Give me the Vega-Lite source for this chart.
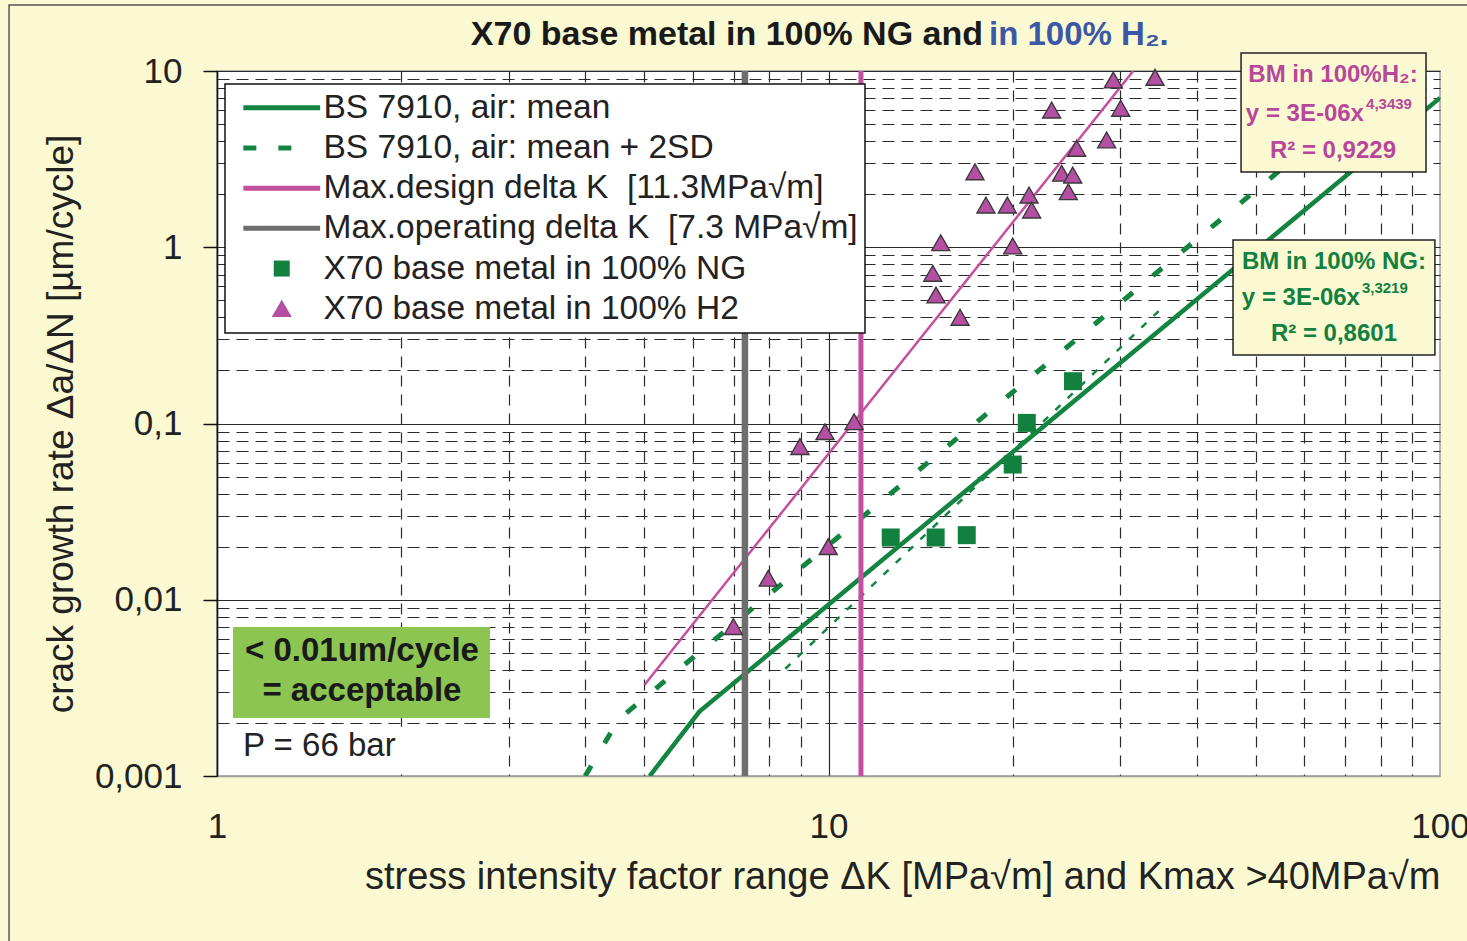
{
  "$schema": "https://vega.github.io/schema/vega-lite/v6.json",
  "width": 1223,
  "height": 705,
  "autosize": {"type": "none"},
  "padding": {"left": 217, "top": 71, "right": 27, "bottom": 165},
  "background": "#FBF9D2",
  "config": {
    "font": "Liberation Sans",
    "view": {"fill": "white", "stroke": "#9c9c9c", "strokeWidth": 1.5},
    "legend": {"strokeWidth": 1.5}
  },
  "datasets": {
    "mean": [
      {"s": "BS 7910, air: mean", "K": 5.1, "v": 0.001},
      {"s": "BS 7910, air: mean", "K": 6.15, "v": 0.00232},
      {"s": "BS 7910, air: mean", "K": 100, "v": 7.04}
    ],
    "sd2": [
      {"s": "BS 7910, air: mean + 2SD", "K": 4.0, "v": 0.001},
      {"s": "BS 7910, air: mean + 2SD", "K": 4.54, "v": 0.0021},
      {"s": "BS 7910, air: mean + 2SD", "K": 85.9, "v": 10}
    ],
    "trendNG": [
      {"K": 8.5, "v": 0.00406},
      {"K": 35.5, "v": 0.47}
    ],
    "trendH2": [
      {"K": 5.0, "v": 0.00328},
      {"K": 31.5, "v": 10}
    ],
    "opsK": [
      {"s": "Max.operating delta K\u00a0 [7.3 MPa√m]", "K": 7.3}
    ],
    "designK": [
      {"s": "Max.design delta K\u00a0 [11.3MPa√m]", "K": 11.3}
    ],
    "ng": [
      {"s": "X70 base metal in 100% NG", "K": 12.64, "v": 0.02256},
      {"s": "X70 base metal in 100% NG", "K": 14.97, "v": 0.02256},
      {"s": "X70 base metal in 100% NG", "K": 16.83, "v": 0.02325},
      {"s": "X70 base metal in 100% NG", "K": 20.01, "v": 0.0585},
      {"s": "X70 base metal in 100% NG", "K": 21.1, "v": 0.1008},
      {"s": "X70 base metal in 100% NG", "K": 25.11, "v": 0.1738}
    ],
    "h2": [
      {"s": "X70 base metal in 100% H2", "K": 6.99, "v": 0.00702},
      {"s": "X70 base metal in 100% H2", "K": 7.97, "v": 0.0132},
      {"s": "X70 base metal in 100% H2", "K": 8.98, "v": 0.0737},
      {"s": "X70 base metal in 100% H2", "K": 9.87, "v": 0.0896},
      {"s": "X70 base metal in 100% H2", "K": 9.99, "v": 0.01995},
      {"s": "X70 base metal in 100% H2", "K": 11.01, "v": 0.102},
      {"s": "X70 base metal in 100% H2", "K": 29.22, "v": 8.86},
      {"s": "X70 base metal in 100% H2", "K": 34.2, "v": 9.17},
      {"s": "X70 base metal in 100% H2", "K": 23.17, "v": 5.98},
      {"s": "X70 base metal in 100% H2", "K": 30.05, "v": 6.12},
      {"s": "X70 base metal in 100% H2", "K": 28.5, "v": 4.05},
      {"s": "X70 base metal in 100% H2", "K": 25.46, "v": 3.63},
      {"s": "X70 base metal in 100% H2", "K": 17.36, "v": 2.67},
      {"s": "X70 base metal in 100% H2", "K": 24.06, "v": 2.62},
      {"s": "X70 base metal in 100% H2", "K": 25.08, "v": 2.56},
      {"s": "X70 base metal in 100% H2", "K": 18.09, "v": 1.73},
      {"s": "X70 base metal in 100% H2", "K": 19.61, "v": 1.73},
      {"s": "X70 base metal in 100% H2", "K": 21.28, "v": 1.97},
      {"s": "X70 base metal in 100% H2", "K": 21.49, "v": 1.62},
      {"s": "X70 base metal in 100% H2", "K": 24.67, "v": 2.06},
      {"s": "X70 base metal in 100% H2", "K": 15.26, "v": 1.058},
      {"s": "X70 base metal in 100% H2", "K": 20.01, "v": 1.013},
      {"s": "X70 base metal in 100% H2", "K": 14.81, "v": 0.709},
      {"s": "X70 base metal in 100% H2", "K": 14.99, "v": 0.534},
      {"s": "X70 base metal in 100% H2", "K": 16.41, "v": 0.399}
    ]
  },
  "layer": [
    {
      "data": {"name": "mean"},
      "mark": {"type": "line", "strokeWidth": 4.5, "clip": true},
      "encoding": {
        "x": {
          "field": "K", "type": "quantitative",
          "scale": {"type": "log", "domain": [1, 100], "nice": false},
          "axis": {
            "values": [1, 2, 3, 4, 5, 6, 7, 8, 9, 10, 20, 30, 40, 50, 60, 70, 80, 90, 100],
            "labelExpr": "datum.value == 1 ? '1' : datum.value == 10 ? '10' : datum.value == 100 ? '100' : ''",
            "labelFontSize": 35, "labelColor": "#222222", "labelPadding": 33, "labelOverlap": false, "labelFlush": false,
            "ticks": false, "domainColor": "#9c9c9c", "domainWidth": 1.5,
            "grid": true, "gridColor": "#2a2a2a", "gridWidth": 1.2,
            "gridDash": {"condition": {"test": "datum.value == 1 || datum.value == 10 || datum.value == 100", "value": [1, 0]}, "value": [11, 8]},
            "gridOpacity": {"condition": {"test": "datum.value == 100", "value": 0}, "value": 1},
            "title": "stress intensity factor range ΔK [MPa√m] and Kmax >40MPa√m",
            "titleFontSize": 38, "titleFontWeight": "normal", "titleColor": "#222222", "titleAnchor": "end", "titlePadding": 14
          }
        },
        "y": {
          "field": "v", "type": "quantitative",
          "scale": {"type": "log", "domain": [0.001, 10], "nice": false},
          "axis": {
            "values": [0.001, 0.002, 0.003, 0.004, 0.005, 0.006, 0.007, 0.008, 0.009, 0.01, 0.02, 0.03, 0.04, 0.05, 0.06, 0.07, 0.08, 0.09, 0.1, 0.2, 0.3, 0.4, 0.5, 0.6, 0.7, 0.8, 0.9, 1, 2, 3, 4, 5, 6, 7, 8, 9, 10],
            "labelExpr": "datum.value == 10 ? '10' : datum.value == 1 ? '1' : datum.value == 0.1 ? '0,1' : datum.value == 0.01 ? '0,01' : datum.value == 0.001 ? '0,001' : ''",
            "labelFontSize": 35, "labelColor": "#222222", "labelPadding": 21, "labelOverlap": false, "labelFlush": false,
            "tickSize": 14, "tickColor": "#111111", "tickWidth": 1.5,
            "tickOpacity": {"condition": {"test": "datum.value == 10 || datum.value == 1 || datum.value == 0.1 || datum.value == 0.01 || datum.value == 0.001", "value": 1}, "value": 0},
            "domainColor": "#111111", "domainWidth": 1.5,
            "grid": true, "gridColor": "#2a2a2a", "gridWidth": 1.2,
            "gridDash": {"condition": {"test": "datum.value == 10 || datum.value == 1 || datum.value == 0.1 || datum.value == 0.01 || datum.value == 0.001", "value": [1, 0]}, "value": [12, 7]},
            "gridOpacity": {"condition": {"test": "datum.value == 0.001", "value": 0}, "value": 1},
            "title": "crack growth rate Δa/ΔN [µm/cycle]",
            "titleFontSize": 37, "titleFontWeight": "normal", "titleColor": "#222222", "titlePadding": 14
          }
        },
        "color": {
          "field": "s", "type": "nominal",
          "scale": {
            "domain": ["BS 7910, air: mean", "BS 7910, air: mean + 2SD", "Max.design delta K\u00a0 [11.3MPa√m]", "Max.operating delta K\u00a0 [7.3 MPa√m]", "X70 base metal in 100% NG", "X70 base metal in 100% H2"],
            "range": ["#148540", "#148540", "#C2509F", "#6E6E6E", "#12803F", "#B54FA3"]
          },
          "legend": {
            "orient": "none", "legendX": 8, "legendY": 13, "title": null,
            "padding": 7, "fillColor": "white", "strokeColor": "#111111",
            "labelFont": "Liberation Sans", "labelFontSize": 33.5, "labelColor": "#222222", "labelLimit": 1000,
            "symbolSize": 256, "symbolOffset": 33, "labelOffset": 25, "rowPadding": 5.2,
            "encode": {
              "symbols": {
                "update": {
                  "shape": {"signal": "indexof(datum.value,'NG')>=0 ? 'M-1,-1H1V1H-1Z' : indexof(datum.value,'H2')>=0 ? 'M-1.1,0.95L1.1,0.95L0,-0.95Z' : 'M-4.8,0H4.8'"},
                  "fill": {"signal": "indexof(datum.value,'NG')>=0 ? '#12803F' : indexof(datum.value,'H2')>=0 ? '#B54FA3' : 'transparent'"},
                  "stroke": {"signal": "indexof(datum.value,'H2')>=0 ? '#3a3a3a' : indexof(datum.value,'NG')>=0 ? 'transparent' : indexof(datum.value,'design')>=0 ? '#C2509F' : indexof(datum.value,'operating')>=0 ? '#6E6E6E' : '#148540'"},
                  "strokeWidth": {"signal": "(isString(datum.value) ? (indexof(datum.value,'H2')>=0 ? 1.5 : (indexof(datum.value,'NG')>=0 ? 0 : 5)) : 5)"},
                  "strokeDash": {"signal": "(indexof(datum.value,'2SD')>=0 ? [13,22,13,100] : [1,0])"},
                  "opacity": {"value": 1},
                  "fillOpacity": {"value": 1},
                  "strokeOpacity": {"value": 1}
                }
              }
            }
          }
        }
      }
    },
    {
      "data": {"name": "sd2"},
      "mark": {"type": "line", "strokeWidth": 5, "strokeDash": [12, 26], "clip": true},
      "encoding": {
        "x": {"field": "K", "type": "quantitative"},
        "y": {"field": "v", "type": "quantitative"},
        "color": {"field": "s", "type": "nominal"}
      }
    },
    {
      "data": {"name": "trendNG"},
      "mark": {"type": "line", "strokeWidth": 2.5, "strokeDash": [7, 10], "color": "#148540", "clip": true},
      "encoding": {
        "x": {"field": "K", "type": "quantitative"},
        "y": {"field": "v", "type": "quantitative"}
      }
    },
    {
      "data": {"name": "trendH2"},
      "mark": {"type": "line", "strokeWidth": 2.5, "color": "#C2509F", "clip": true},
      "encoding": {
        "x": {"field": "K", "type": "quantitative"},
        "y": {"field": "v", "type": "quantitative"}
      }
    },
    {
      "data": {"name": "opsK"},
      "mark": {"type": "rule", "strokeWidth": 6.5},
      "encoding": {
        "x": {"field": "K", "type": "quantitative"},
        "color": {"field": "s", "type": "nominal"}
      }
    },
    {
      "data": {"name": "designK"},
      "mark": {"type": "rule", "strokeWidth": 5},
      "encoding": {
        "x": {"field": "K", "type": "quantitative"},
        "color": {"field": "s", "type": "nominal"}
      }
    },
    {
      "data": {"name": "ng"},
      "mark": {"type": "point", "shape": "square", "filled": true, "size": 324, "opacity": 1},
      "encoding": {
        "x": {"field": "K", "type": "quantitative"},
        "y": {"field": "v", "type": "quantitative"},
        "color": {"field": "s", "type": "nominal"}
      }
    },
    {
      "data": {"name": "h2"},
      "mark": {"type": "point", "shape": "M-1,0.85L1,0.85L0,-0.9Z", "filled": true, "size": 324, "opacity": 1, "stroke": "#3a3a3a", "strokeWidth": 1.4},
      "encoding": {
        "x": {"field": "K", "type": "quantitative"},
        "y": {"field": "v", "type": "quantitative"},
        "color": {"field": "s", "type": "nominal"}
      }
    },
    {
      "data": {"values": [{}]},
      "mark": {"type": "rect", "fill": "white", "clip": false},
      "encoding": {"x": {"datum": 1.042}, "x2": {"datum": 2.795}, "y": {"datum": 0.0019}, "y2": {"datum": 0.001068}}
    },
    {
      "data": {"values": [{}]},
      "mark": {"type": "rect", "fill": "#8CC552", "clip": false},
      "encoding": {"x": {"datum": 1.062}, "x2": {"datum": 2.795}, "y": {"datum": 0.00701}, "y2": {"datum": 0.002133}}
    },
    {
      "data": {"values": [{}]},
      "mark": {"type": "text", "text": "< 0.01um/cycle", "fontSize": 33, "fontWeight": "bold", "color": "#1a1a1a", "align": "center", "baseline": "middle", "clip": false},
      "encoding": {"x": {"datum": 1.726}, "y": {"datum": 0.005119}}
    },
    {
      "data": {"values": [{}]},
      "mark": {"type": "text", "text": "= acceptable", "fontSize": 33, "fontWeight": "bold", "color": "#1a1a1a", "align": "center", "baseline": "middle", "clip": false},
      "encoding": {"x": {"datum": 1.726}, "y": {"datum": 0.003037}}
    },
    {
      "data": {"values": [{}]},
      "mark": {"type": "text", "text": "P = 66 bar", "fontSize": 33, "color": "#222222", "align": "left", "baseline": "middle", "clip": false},
      "encoding": {"x": {"datum": 1.103}, "y": {"datum": 0.00148}}
    },
    {
      "data": {"values": [{}]},
      "mark": {"type": "rect", "fill": "#FBF9D2", "stroke": "#222222", "strokeWidth": 1.5, "clip": false},
      "encoding": {"x": {"datum": 47.28}, "x2": {"datum": 94.87}, "y": {"datum": 12.65}, "y2": {"datum": 2.673}}
    },
    {
      "data": {"values": [{}]},
      "mark": {"type": "text", "text": "BM in 100%H₂:", "fontSize": 24, "fontWeight": "bold", "color": "#B8479B", "align": "center", "baseline": "middle", "clip": false},
      "encoding": {"x": {"datum": 66.83}, "y": {"datum": 9.49}}
    },
    {
      "data": {"values": [{}]},
      "mark": {"type": "text", "text": "y = 3E-06x", "fontSize": 24, "fontWeight": "bold", "color": "#B8479B", "align": "right", "baseline": "middle", "clip": false},
      "encoding": {"x": {"datum": 75.1}, "y": {"datum": 5.7}}
    },
    {
      "data": {"values": [{}]},
      "mark": {"type": "text", "text": "4,3439", "fontSize": 15, "fontWeight": "bold", "color": "#B8479B", "align": "left", "baseline": "middle", "clip": false},
      "encoding": {"x": {"datum": 75.7}, "y": {"datum": 6.5}}
    },
    {
      "data": {"values": [{}]},
      "mark": {"type": "text", "text": "R² = 0,9229", "fontSize": 24, "fontWeight": "bold", "color": "#B8479B", "align": "center", "baseline": "middle", "clip": false},
      "encoding": {"x": {"datum": 66.83}, "y": {"datum": 3.516}}
    },
    {
      "data": {"values": [{}]},
      "mark": {"type": "rect", "fill": "#FBF9D2", "stroke": "#222222", "strokeWidth": 1.5, "clip": false},
      "encoding": {"x": {"datum": 45.87}, "x2": {"datum": 98.1}, "y": {"datum": 1.099}, "y2": {"datum": 0.2446}}
    },
    {
      "data": {"values": [{}]},
      "mark": {"type": "text", "text": "BM in 100% NG:", "fontSize": 24, "fontWeight": "bold", "color": "#128040", "align": "center", "baseline": "middle", "clip": false},
      "encoding": {"x": {"datum": 67.08}, "y": {"datum": 0.8247}}
    },
    {
      "data": {"values": [{}]},
      "mark": {"type": "text", "text": "y = 3E-06x", "fontSize": 24, "fontWeight": "bold", "color": "#128040", "align": "right", "baseline": "middle", "clip": false},
      "encoding": {"x": {"datum": 73.98}, "y": {"datum": 0.5152}}
    },
    {
      "data": {"values": [{}]},
      "mark": {"type": "text", "text": "3,3219", "fontSize": 15, "fontWeight": "bold", "color": "#128040", "align": "left", "baseline": "middle", "clip": false},
      "encoding": {"x": {"datum": 74.53}, "y": {"datum": 0.5873}}
    },
    {
      "data": {"values": [{}]},
      "mark": {"type": "text", "text": "R² = 0,8601", "fontSize": 24, "fontWeight": "bold", "color": "#128040", "align": "center", "baseline": "middle", "clip": false},
      "encoding": {"x": {"datum": 67.08}, "y": {"datum": 0.322}}
    },
    {
      "data": {"values": [{}]},
      "mark": {"type": "text", "text": "X70 base metal in 100% NG and", "fontSize": 34, "fontWeight": "bold", "color": "#1a1a1a", "align": "right", "baseline": "middle", "clip": false},
      "encoding": {"x": {"datum": 17.89}, "y": {"datum": 16.01}}
    },
    {
      "data": {"values": [{}]},
      "mark": {"type": "text", "text": "in 100% H₂.", "fontSize": 33, "fontWeight": "bold", "color": "#3B57A6", "align": "left", "baseline": "middle", "clip": false},
      "encoding": {"x": {"datum": 18.3}, "y": {"datum": 16.01}}
    },
    {
      "data": {"values": [{}]},
      "mark": {"type": "rect", "fillOpacity": 0, "stroke": "#555555", "strokeWidth": 1.5, "clip": false},
      "encoding": {"x": {"datum": 0.457}, "x2": {"datum": 125.4}, "y": {"datum": 23.7}, "y2": {"datum": 0.0000536}}
    }
  ]
}
